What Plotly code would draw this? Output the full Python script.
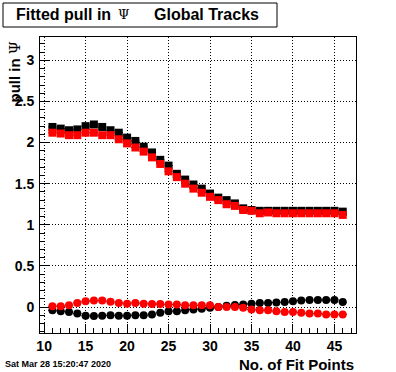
import plotly.graph_objects as go

n_fit_points = list(range(11, 47))

black_squares = [2.19, 2.17, 2.15, 2.16, 2.20, 2.22, 2.19, 2.15, 2.12, 2.06, 2.02, 1.95,
                 1.88, 1.79, 1.72, 1.62, 1.55, 1.49, 1.44, 1.38, 1.33, 1.30, 1.26, 1.20,
                 1.18, 1.17, 1.17, 1.17, 1.17, 1.17, 1.17, 1.17, 1.17, 1.17, 1.17, 1.16]
red_squares = [2.12, 2.11, 2.09, 2.09, 2.12, 2.12, 2.09, 2.09, 2.04, 1.99, 1.94, 1.89,
               1.82, 1.74, 1.65, 1.58, 1.50, 1.44, 1.39, 1.34, 1.30, 1.25, 1.23, 1.18,
               1.17, 1.14, 1.15, 1.14, 1.14, 1.14, 1.14, 1.14, 1.14, 1.14, 1.14, 1.12]
black_circles = [-0.04, -0.05, -0.06, -0.08, -0.105, -0.11, -0.105, -0.10, -0.105, -0.105,
                 -0.10, -0.10, -0.09, -0.07, -0.05, -0.05, -0.04, -0.03, -0.02, -0.01,
                 0.0, 0.016, 0.025, 0.03, 0.04, 0.05, 0.05, 0.055, 0.06, 0.07, 0.08,
                 0.085, 0.085, 0.085, 0.085, 0.06]
red_circles = [0.01, 0.01, 0.02, 0.05, 0.07, 0.08, 0.08, 0.064, 0.05, 0.04, 0.05, 0.04,
               0.036, 0.036, 0.03, 0.03, 0.02, 0.02, 0.02, 0.02, 0.0, 0.0, 0.0, -0.01,
               -0.03, -0.04, -0.04, -0.05, -0.06, -0.06, -0.07, -0.08, -0.08, -0.09,
               -0.09, -0.09]

x_tick_vals = [10, 15, 20, 25, 30, 35, 40, 45]
y_tick_vals = [0, 0.5, 1, 1.5, 2, 2.5, 3]
y_tick_text = ["0", "0.5", "1", "1.5", "2", "2.5", "3"]

W, H = 396, 372
L, R, T, B = 40, 40, 37, 39
PW, PH = W - L - R, H - T - B


def px_x(p):
    return (p - L) / PW


def px_y(p):
    return (H - B - p) / PH


fig = go.Figure()
half = [0.5] * len(n_fit_points)
series = [
    (black_squares, "black", "square"),
    (red_squares, "red", "square"),
    (black_circles, "black", "circle"),
    (red_circles, "red", "circle"),
]
for vals, col, sym in series:
    fig.add_trace(go.Scatter(
        x=n_fit_points, y=vals, mode="markers",
        marker=dict(symbol=sym, size=8, color=col, line=dict(width=0)),
        error_x=dict(type="data", array=half, color="black", thickness=1, width=0),
        showlegend=False,
    ))

axis_font = dict(family="Liberation Sans", size=14, color="black", weight="bold")

fig.update_xaxes(
    range=[9.5, 47.6], tickvals=x_tick_vals, ticks="inside", ticklen=9,
    tickcolor="black", showline=True, mirror=True, linecolor="black", linewidth=1,
    showgrid=True, gridcolor="black", gridwidth=1, griddash="1px,2px",
    zeroline=False, tickfont=axis_font,
    minor=dict(ticks="inside", ticklen=5, tickcolor="black", dtick=1, tick0=10, showgrid=False),
)
fig.update_yaxes(
    range=[-0.316, 3.284], tickvals=y_tick_vals, ticktext=y_tick_text, ticks="inside",
    ticklen=9, tickcolor="black", showline=True, mirror=True, linecolor="black",
    linewidth=1, showgrid=True, gridcolor="black", gridwidth=1, griddash="1px,2px",
    zeroline=False, tickfont=axis_font, ticklabelstandoff=2,
    minor=dict(ticks="inside", ticklen=5, tickcolor="black", dtick=0.1, tick0=0, showgrid=False),
)

fig.update_layout(
    width=W, height=H, margin=dict(l=L, r=R, t=T, b=B, pad=0),
    paper_bgcolor="white", plot_bgcolor="white", showlegend=False,
)

# title box
fig.add_shape(type="rect", xref="paper", yref="paper",
              x0=px_x(3), x1=px_x(277), y0=px_y(27), y1=px_y(3),
              line=dict(color="black", width=1), fillcolor="white")
title_font = dict(family="Liberation Sans", size=16, color="black", weight="bold")
fig.add_annotation(xref="paper", yref="paper", x=px_x(14), y=px_y(15),
                   xanchor="left", yanchor="middle", showarrow=False,
                   text="Fitted pull in", font=title_font)
fig.add_annotation(xref="paper", yref="paper", x=px_x(124), y=px_y(15),
                   xanchor="center", yanchor="middle", showarrow=False,
                   text="Ψ", font=dict(family="DejaVu Serif", size=13, color="black"))
fig.add_annotation(xref="paper", yref="paper", x=px_x(152), y=px_y(15),
                   xanchor="left", yanchor="middle", showarrow=False,
                   text="Global Tracks", font=title_font)

# y-axis title (top aligned)
fig.add_annotation(xref="paper", yref="paper", x=px_x(15), y=px_y(40),
                   xanchor="center", yanchor="top", showarrow=False, textangle=-90,
                   text="pull in <span style='font-family:DejaVu Serif;font-weight:normal'>Ψ</span>",
                   font=dict(family="Liberation Sans", size=15, color="black", weight="bold"))

# x-axis title (right aligned)
fig.add_annotation(xref="paper", yref="paper", x=px_x(356), y=px_y(364),
                   xanchor="right", yanchor="middle", showarrow=False,
                   text="No. of Fit Points",
                   font=dict(family="Liberation Sans", size=15, color="black", weight="bold"))

# date stamp
fig.add_annotation(xref="paper", yref="paper", x=px_x(3), y=px_y(364),
                   xanchor="left", yanchor="middle", showarrow=False,
                   text="Sat Mar 28 15:20:47 2020",
                   font=dict(family="Liberation Sans", size=9, color="black", weight="bold"))

fig.write_html("out.html", config={"displayModeBar": False},
               post_script="document.body.style.margin='0px';")
